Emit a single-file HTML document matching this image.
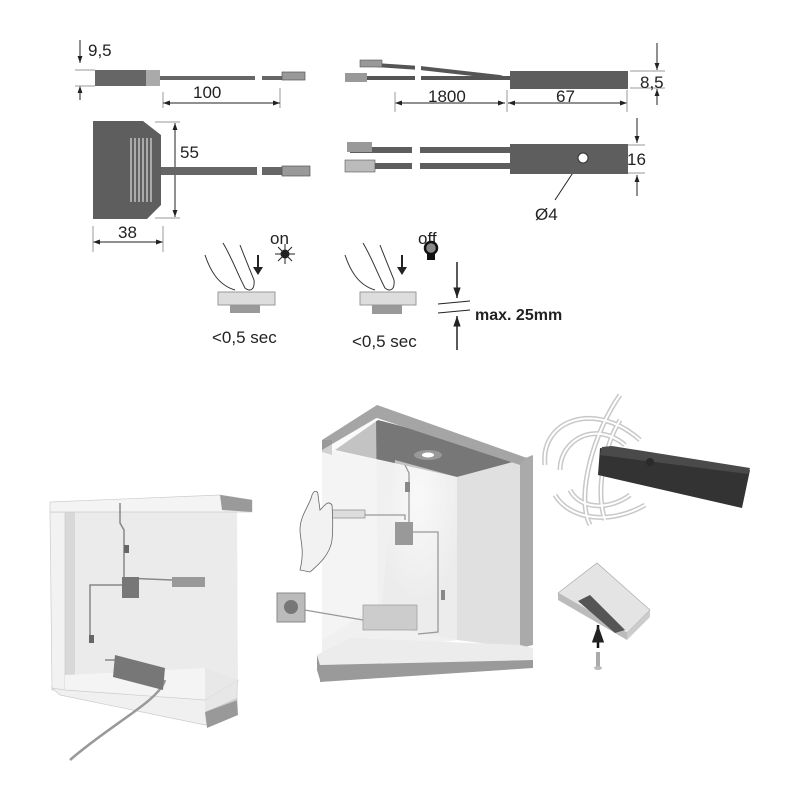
<!DOCTYPE html>
<html><head><meta charset="utf-8"><style>
html,body{margin:0;padding:0;background:#fff;width:800px;height:800px;overflow:hidden}
text{font-family:"Liberation Sans","DejaVu Sans",sans-serif;fill:#222}
</style></head><body>
<svg width="800" height="800" viewBox="0 0 800 800" xmlns="http://www.w3.org/2000/svg">
<defs>
<marker id="a" viewBox="0 0 10 10" refX="10" refY="5" markerWidth="7" markerHeight="7" orient="auto-start-reverse"><path d="M0,1.5 L10,5 L0,8.5z" fill="#222"/></marker>
<radialGradient id="spot" cx="0.5" cy="0.2" r="0.6"><stop offset="0" stop-color="#fff"/><stop offset="1" stop-color="#e9e9e9"/></radialGradient>
</defs>
<g stroke="#222" stroke-width="1" fill="none">
<line x1="80" y1="40" x2="80" y2="63" marker-end="url(#a)"/>
<line x1="80" y1="100" x2="80" y2="86" marker-end="url(#a)"/>
<line x1="75" y1="70" x2="95" y2="70" stroke="#999"/><line x1="75" y1="86" x2="95" y2="86" stroke="#999"/>
<line x1="163" y1="92" x2="163" y2="108" stroke="#999"/><line x1="280" y1="88" x2="280" y2="108" stroke="#999"/>
<line x1="163" y1="103" x2="280" y2="103" marker-start="url(#a)" marker-end="url(#a)"/>
<line x1="175" y1="123" x2="175" y2="217" marker-start="url(#a)" marker-end="url(#a)"/>
<line x1="155" y1="122" x2="180" y2="122" stroke="#999"/><line x1="155" y1="218" x2="180" y2="218" stroke="#999"/>
<line x1="93" y1="242" x2="163" y2="242" marker-start="url(#a)" marker-end="url(#a)"/>
<line x1="93" y1="226" x2="93" y2="252" stroke="#999"/><line x1="163" y1="226" x2="163" y2="252" stroke="#999"/>
<line x1="395" y1="103" x2="505" y2="103" marker-start="url(#a)" marker-end="url(#a)"/>
<line x1="508" y1="103" x2="627" y2="103" marker-start="url(#a)" marker-end="url(#a)"/>
<line x1="395" y1="92" x2="395" y2="112" stroke="#999"/><line x1="507" y1="90" x2="507" y2="112" stroke="#999"/><line x1="627" y1="90" x2="627" y2="112" stroke="#999"/>
<line x1="657" y1="43" x2="657" y2="70" marker-end="url(#a)"/>
<line x1="657" y1="105" x2="657" y2="89" marker-end="url(#a)"/>
<line x1="630" y1="71" x2="665" y2="71" stroke="#999"/><line x1="630" y1="88" x2="665" y2="88" stroke="#999"/>
<line x1="637" y1="118" x2="637" y2="143" marker-end="url(#a)"/>
<line x1="637" y1="196" x2="637" y2="175" marker-end="url(#a)"/>
<line x1="628" y1="145" x2="645" y2="145" stroke="#999"/><line x1="628" y1="173" x2="645" y2="173" stroke="#999"/>
<line x1="555" y1="200" x2="580" y2="162" marker-end="url(#a)"/>
<line x1="457" y1="262" x2="457" y2="298" marker-end="url(#a)" stroke-width="1.5"/>
<line x1="457" y1="350" x2="457" y2="316" marker-end="url(#a)" stroke-width="1.5"/>
<line x1="438" y1="304" x2="470" y2="301"/><line x1="438" y1="313" x2="470" y2="310"/>
</g>
<rect x="95" y="70" width="51" height="16" fill="#666"/><rect x="146" y="70" width="14" height="16" fill="#aaa"/>
<rect x="160" y="76" width="95" height="4" fill="#666"/><rect x="262" y="76" width="20" height="4" fill="#666"/>
<rect x="282" y="72" width="23" height="8" fill="#999" stroke="#555" stroke-width="0.7"/>
<path d="M93,121 H143 L161,135 V205 L147,219 H93z" fill="#5e5e5e"/>
<g stroke="#ddd" stroke-width="1.2"><line x1="131" y1="138" x2="131" y2="202"/><line x1="135" y1="138" x2="135" y2="202"/><line x1="139" y1="138" x2="139" y2="202"/><line x1="143" y1="138" x2="143" y2="202"/><line x1="147" y1="138" x2="147" y2="202"/><line x1="151" y1="138" x2="151" y2="202"/></g>
<rect x="161" y="167" width="96" height="8" fill="#666"/><rect x="262" y="167" width="20" height="8" fill="#666"/>
<rect x="282" y="166" width="28" height="10" fill="#999" stroke="#555" stroke-width="0.7"/>
<polygon points="360,62 420,66 500,75 510,78 508,80 420,70 360,66" fill="#555"/>
<rect x="360" y="60" width="22" height="7" fill="#999" stroke="#555" stroke-width="0.6"/>
<rect x="348" y="76" width="162" height="4" fill="#555"/>
<rect x="345" y="73" width="22" height="9" fill="#999"/>
<rect x="415" y="55" width="6" height="30" fill="#fff"/>
<rect x="510" y="71" width="118" height="18" fill="#5e5e5e"/>
<rect x="350" y="147" width="160" height="6" fill="#5e5e5e"/><rect x="350" y="163" width="160" height="6" fill="#5e5e5e"/>
<rect x="412" y="140" width="8" height="35" fill="#fff"/>
<rect x="347" y="142" width="25" height="10" fill="#999"/><rect x="345" y="160" width="30" height="12" fill="#bbb" stroke="#555" stroke-width="0.6"/>
<rect x="510" y="144" width="118" height="30" fill="#5e5e5e"/>
<circle cx="583" cy="158" r="5" fill="#fff" stroke="#333"/>
<text x="88" y="56" font-size="17">9,5</text>
<text x="193" y="98" font-size="17">100</text>
<text x="180" y="158" font-size="17">55</text>
<text x="118" y="238" font-size="17">38</text>
<text x="428" y="102" font-size="17">1800</text>
<text x="556" y="102" font-size="17">67</text>
<text x="640" y="88" font-size="17">8,5</text>
<text x="627" y="165" font-size="17">16</text>
<text x="535" y="220" font-size="17">Ø4</text>
<text x="270" y="244" font-size="17">on</text>
<text x="418" y="244" font-size="17">off</text>
<text x="212" y="343" font-size="17">&lt;0,5 sec</text>
<text x="352" y="347" font-size="17">&lt;0,5 sec</text>
<text x="475" y="320" font-size="16" font-weight="bold">max. 25mm</text>
<g stroke="#222" stroke-width="1"><circle cx="285" cy="254" r="4" fill="#222"/><line x1="275" y1="254" x2="295" y2="254"/><line x1="285" y1="244" x2="285" y2="264"/><line x1="278" y1="247" x2="292" y2="261"/><line x1="292" y1="247" x2="278" y2="261"/></g>
<circle cx="431" cy="248" r="6" fill="#888" stroke="#111" stroke-width="2.5"/><rect x="427" y="254" width="8" height="6" fill="#111"/>
<g fill="none" stroke="#333" stroke-width="1">
<path d="M205,255 C210,270 218,285 235,290 M223,243 C232,258 238,275 245,288 C250,292 255,290 254,280 C250,270 245,258 240,245"/>
<path d="M345,255 C350,270 358,285 375,290 M363,243 C372,258 378,275 385,288 C390,292 395,290 394,280 C390,270 385,258 380,245"/>
</g>
<path d="M257,255 v12 h-4 l5,8 5,-8 h-4 v-12z" fill="#222"/>
<path d="M401,255 v12 h-4 l5,8 5,-8 h-4 v-12z" fill="#222"/>
<rect x="230" y="303" width="30" height="10" fill="#999"/><rect x="218" y="292" width="57" height="13" fill="#ddd" stroke="#999"/>
<rect x="372" y="304" width="30" height="10" fill="#999"/><rect x="360" y="292" width="56" height="13" fill="#ddd" stroke="#999"/>

<!-- LEFT CABINET -->
<polygon points="65,512 205,512 205,690 65,683" fill="#ebebeb"/>
<polygon points="65,512 75,512 75,680 65,683" fill="#d8d8d8"/>
<polygon points="50,512 65,512 65,690 52,690" fill="#f2f2f2" stroke="#ccc" stroke-width="0.7"/>
<polygon points="65,675 205,668 238,680 208,700 65,690" fill="#f4f4f4"/>
<polygon points="52,688 60,695 205,725 235,712 238,680 205,700 65,690" fill="#f0f0f0" stroke="#ccc" stroke-width="0.7"/>
<polygon points="205,712 237,698 238,715 207,728" fill="#999"/>
<polygon points="205,512 237,510 238,700 205,712" fill="#e2e2e2" opacity="0.7"/>
<polygon points="50,502 220,495 252,500 252,512 50,512" fill="#f4f4f4" stroke="#ccc" stroke-width="0.7"/>
<polygon points="220,495 252,500 252,512 222,510" fill="#9a9a9a"/>
<g stroke="#888" stroke-width="1.5" fill="none">
<path d="M120,503 v20 l4,7 v48 l48,2"/>
<path d="M122,585 h-32 v55"/>
<path d="M105,660 h10"/>
<path d="M165,680 C160,700 110,725 70,760" stroke-width="2.5" stroke="#999"/>
</g>
<rect x="122" y="577" width="17" height="21" fill="#777"/>
<rect x="172" y="577" width="33" height="10" fill="#999"/>
<rect x="124" y="545" width="5" height="8" fill="#666"/><rect x="89" y="635" width="5" height="8" fill="#666"/>
<polygon points="115,655 165,668 163,690 113,677" fill="#777"/>

<!-- MIDDLE CABINET -->
<polygon points="322,448 457,477 457,640 322,658" fill="#f0f0f0"/>
<polygon points="335,450 378,420 528,460 457,477" fill="#777"/>
<ellipse cx="428" cy="455" rx="14" ry="5" fill="#999"/><ellipse cx="428" cy="455" rx="6" ry="2.5" fill="#fff"/>
<polygon points="395,460 457,477 457,640 380,625" fill="url(#spot)" opacity="0.6"/>
<polygon points="457,477 520,460 520,648 457,640" fill="#e0e0e0"/>
<polygon points="520,460 533,455 533,645 520,648" fill="#aaa"/>
<polygon points="322,440 377,405 527,458 520,465 377,418 322,450" fill="#a5a5a5"/>
<polygon points="322,440 332,440 332,455 322,452" fill="#999"/>
<polygon points="322,450 376,418 378,605 322,640" fill="#f7f7f7" opacity="0.6"/>
<polygon points="317,655 350,638 520,645 533,648 533,660 320,665" fill="#ececec"/>
<polygon points="317,655 320,665 320,680 317,670" fill="#999"/>
<polygon points="320,665 533,660 533,668 320,682" fill="#9a9a9a"/>
<g stroke="#999" stroke-width="1.3" fill="none">
<path d="M405,465 l4,8 v50"/>
<path d="M365,515 h40 v5"/>
<path d="M413,532 h25 v100 l-20,2"/>
<path d="M363,620 l-70,-12"/>
</g>
<rect x="405" y="482" width="5" height="10" fill="#888"/><rect x="441" y="590" width="4" height="10" fill="#888"/>
<rect x="332" y="510" width="33" height="8" fill="#ddd" stroke="#888" stroke-width="0.7"/>
<rect x="395" y="522" width="18" height="23" fill="#999"/>
<rect x="363" y="605" width="54" height="25" fill="#ccc" stroke="#999" stroke-width="0.7"/>
<rect x="277" y="593" width="28" height="29" fill="#bbb" stroke="#888"/><circle cx="291" cy="607" r="7" fill="#777"/>
<path d="M300,570 C305,550 300,540 300,530 C300,515 310,505 312,495 C314,490 318,490 318,495 L320,510 C325,505 328,500 332,505 C333,520 333,530 332,540 C330,555 318,565 310,572z" fill="#f2f2f2" stroke="#666" stroke-width="0.8"/>

<!-- WAVES -->
<g fill="none" stroke="#c8c8c8" stroke-width="5">
<path d="M545,465 C540,420 595,400 640,440"/><path d="M560,470 C560,440 595,420 625,445"/>
<path d="M555,495 C570,520 610,525 645,505"/><path d="M570,490 C580,510 610,510 630,495"/>
<path d="M590,525 C575,495 595,430 620,395"/><path d="M605,520 C595,490 605,445 620,420"/>
</g>
<g fill="none" stroke="#fff" stroke-width="2">
<path d="M545,465 C540,420 595,400 640,440"/><path d="M560,470 C560,440 595,420 625,445"/>
<path d="M555,495 C570,520 610,525 645,505"/><path d="M570,490 C580,510 610,510 630,495"/>
<path d="M590,525 C575,495 595,430 620,395"/><path d="M605,520 C595,490 605,445 620,420"/>
</g>
<polygon points="600,448 750,470 742,508 598,475" fill="#333"/>
<polygon points="602,447 612,446 750,468 748,474 600,455" fill="#4a4a4a"/>
<circle cx="650" cy="462" r="4" fill="#2a2a2a"/>

<!-- MOUNT -->
<polygon points="558,593 597,563 650,610 627,633" fill="#e4e4e4" stroke="#aaa" stroke-width="0.7"/>
<polygon points="558,593 627,633 627,640 558,600" fill="#bbb"/>
<polygon points="627,633 650,610 650,617 627,640" fill="#ccc"/>
<polygon points="578,601 590,595 625,630 615,633" fill="#555"/>
<line x1="598" y1="648" x2="598" y2="625" stroke="#111" stroke-width="2.5" marker-end="url(#a)"/>
<rect x="596" y="652" width="4" height="15" fill="#aaa"/><ellipse cx="598" cy="668" rx="4" ry="2" fill="#bbb"/>
</svg>
</body></html>
